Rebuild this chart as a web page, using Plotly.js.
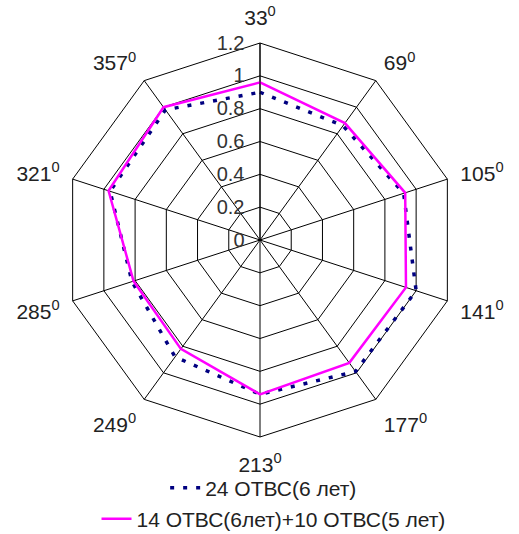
<!DOCTYPE html>
<html>
<head>
<meta charset="utf-8">
<script src="https://cdn.plot.ly/plotly-3.0.1.min.js"></script>
<style>html,body{margin:0;padding:0;background:#fff;}#chart{width:519px;height:534px;}</style>
</head>
<body>
<div id="chart"></div>
<script>
// Angular categories (degrees) and tick labels
const angles = [33, 69, 105, 141, 177, 213, 249, 285, 321, 357];
const angleLabels = angles.map(a => a + '<sup>0</sup>');
// Series values (relative units)
const series1Name = '24 ОТВС(6 лет)';
const series1 = [0.90, 0.86, 0.92, 1.00, 0.99, 0.94, 0.88, 0.82, 0.96, 0.98];
const series2Name = '14 ОТВС(6лет)+10 ОТВС(5 лет)';
const series2 = [0.96, 0.88, 0.93, 0.935, 0.925, 0.94, 0.82, 0.81, 0.97, 1.00];
const radialTicks = [0, 0.2, 0.4, 0.6, 0.8, 1, 1.2];

const close = arr => arr.concat([arr[0]]);

const font = 'Liberation Sans, Arial, sans-serif';

const traces = [
  {
    type: 'scatterpolar', mode: 'lines', name: series1Name,
    r: close(series1), theta: close(angleLabels),
    line: {color: '#000080', width: 3.5, dash: '4px,9px'},
    legend: 'legend'
  },
  {
    type: 'scatterpolar', mode: 'lines', name: series2Name,
    r: close(series2), theta: close(angleLabels),
    line: {color: '#ff00ff', width: 2.5},
    legend: 'legend2'
  }
];

const R = 197, cx = 260, cyTop = 240, W = 519, H = 534;
const layout = {
  width: W, height: H,
  margin: {l: 0, r: 0, t: 0, b: 0, autoexpand: false},
  paper_bgcolor: '#fff',
  font: {family: font, size: 20, color: '#222'},
  showlegend: true,
  polar: {
    domain: {x: [(cx - R) / W, (cx + R) / W], y: [(H - cyTop - R) / H, (H - cyTop + R) / H]},
    bgcolor: '#fff',
    gridshape: 'linear',
    angularaxis: {
      type: 'category',
      categoryarray: angleLabels,
      direction: 'clockwise',
      rotation: 90,
      showline: true, linecolor: '#000', linewidth: 1,
      showgrid: true, gridcolor: '#000', gridwidth: 1,
      ticks: 'outside', ticklen: 9, tickcolor: 'rgba(0,0,0,0)',
      tickfont: {family: font, size: 21, color: '#222'}
    },
    radialaxis: {
      range: [0, 1.2],
      tickvals: radialTicks,
      ticktext: radialTicks.map(v => String(v)),
      angle: 90,
      side: 'counterclockwise',
      tickangle: 90,
      showline: true, linecolor: '#000', linewidth: 1,
      showgrid: true, gridcolor: '#000', gridwidth: 1,
      ticks: 'outside', ticklen: 8, tickcolor: 'rgba(0,0,0,0)',
      tickfont: {family: font, size: 20, color: '#333'}
    }
  },
  legend: {x: 0.508, xanchor: 'center', y: 0.086, yanchor: 'middle', bgcolor: 'rgba(0,0,0,0)', font: {family: font, size: 21, color: '#222'}},
  legend2: {x: 0.527, xanchor: 'center', y: 0.028, yanchor: 'middle', bgcolor: 'rgba(0,0,0,0)', font: {family: font, size: 21, color: '#222'}}
};

Plotly.newPlot('chart', traces, layout, {displayModeBar: false, staticPlot: true});
</script>
</body>
</html>
